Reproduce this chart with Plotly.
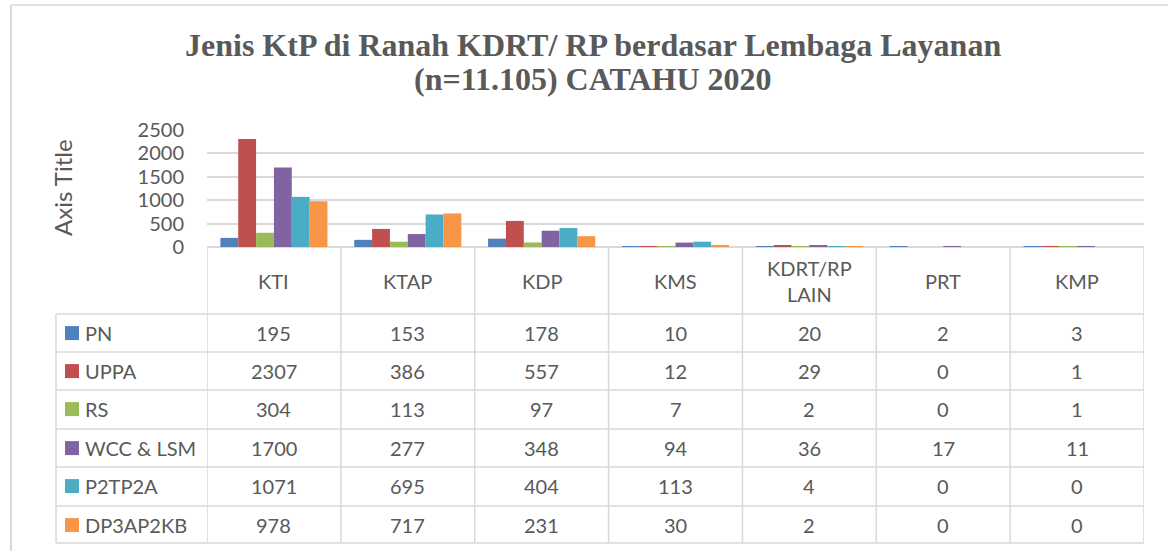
import plotly.graph_objects as go

# ---- data ----
categories = ["KTI", "KTAP", "KDP", "KMS", "KDRT/RP LAIN", "PRT", "KMP"]
category_labels = ["KTI", "KTAP", "KDP", "KMS", "KDRT/RP<br>LAIN", "PRT", "KMP"]
series_names = ["PN", "UPPA", "RS", "WCC & LSM", "P2TP2A", "DP3AP2KB"]
pn = [195, 153, 178, 10, 20, 2, 3]
uppa = [2307, 386, 557, 12, 29, 0, 1]
rs = [304, 113, 97, 7, 2, 0, 1]
wcc_lsm = [1700, 277, 348, 94, 36, 17, 11]
p2tp2a = [1071, 695, 404, 113, 4, 0, 0]
dp3ap2kb = [978, 717, 231, 30, 2, 0, 0]
series_values = [pn, uppa, rs, wcc_lsm, p2tp2a, dp3ap2kb]
y_ticks = [0, 500, 1000, 1500, 2000, 2500]

title_line1 = "Jenis KtP di Ranah KDRT/ RP berdasar Lembaga Layanan"
title_line2 = "(n=11.105) CATAHU 2020"
axis_title = "Axis Title"

# ---- style ----
colors = ["#4F81BD", "#C0504D", "#9BBB59", "#8064A2", "#4BACC6", "#F79646"]
W, H = 1168, 551
GRID = "#D9D9D9"
TXT = "#595959"
FONT = "Lato"


def px(x):
    return x / W


def py(y):
    return 1 - y / H


plot_left, plot_right = 207, 1144
plot_top, plot_bottom = 130, 247
table_left = 56
row_tops = [314, 352, 390, 429, 467, 506]
table_bottom = 543

fig = go.Figure()
for name, vals, c in zip(series_names, series_values, colors):
    fig.add_trace(go.Bar(x=categories, y=vals, name=name, marker_color=c,
                         marker_line_width=0, showlegend=False, hoverinfo="skip"))

shapes = []
annotations = []
line_style = dict(color=GRID, width=1.5)

# outer frame
shapes.append(dict(type="line", xref="paper", yref="paper", x0=px(11), x1=px(11),
                   y0=py(5), y1=py(551), line=dict(color=GRID, width=2)))
shapes.append(dict(type="line", xref="paper", yref="paper", x0=px(11), x1=1,
                   y0=py(5), y1=py(5), line=dict(color=GRID, width=1.5)))

# table vertical lines (category boundaries)
for k in range(len(categories) + 1):
    shapes.append(dict(type="line", xref="x", yref="paper", x0=k - 0.5, x1=k - 0.5,
                       y0=py(plot_bottom), y1=py(table_bottom), line=line_style))
# left column border
shapes.append(dict(type="line", xref="paper", yref="paper", x0=px(table_left), x1=px(table_left),
                   y0=py(row_tops[0]), y1=py(table_bottom), line=line_style))
# horizontal lines
for yy in row_tops + [table_bottom]:
    shapes.append(dict(type="line", xref="paper", yref="paper", x0=px(table_left), x1=px(plot_right),
                       y0=py(yy), y1=py(yy), line=line_style))

# header labels
header_center = (plot_bottom + row_tops[0]) / 2
for cat, lab in zip(categories, category_labels):
    annotations.append(dict(x=cat, xref="x", y=py(header_center), yref="paper",
                            text=lab, showarrow=False, xanchor="center", yanchor="middle",
                            font=dict(family=FONT, size=20, color=TXT)))

# rows
row_h = (table_bottom - row_tops[0]) / len(series_names)
for i, (name, vals, c) in enumerate(zip(series_names, series_values, colors)):
    yc = row_tops[i] + row_h / 2
    shapes.append(dict(type="rect", xref="paper", yref="paper", x0=px(65), x1=px(79),
                       y0=py(yc + 7), y1=py(yc - 7), fillcolor=c, line=dict(width=0)))
    annotations.append(dict(x=px(83), xref="paper", y=py(yc), yref="paper", text=name,
                            showarrow=False, xanchor="left", yanchor="middle",
                            font=dict(family=FONT, size=20, color=TXT)))
    for cat, v in zip(categories, vals):
        annotations.append(dict(x=cat, xref="x", y=py(yc), yref="paper", text=str(v),
                                showarrow=False, xanchor="center", yanchor="middle",
                                font=dict(family=FONT, size=20, color=TXT)))

# title
annotations.append(dict(x=px(593), y=py(45), xref="paper", yref="paper", text="<b>" + title_line1 + "</b>",
                        showarrow=False, xanchor="center", yanchor="middle",
                        font=dict(family="Liberation Serif", size=32, color=TXT)))
annotations.append(dict(x=px(593), y=py(79), xref="paper", yref="paper", text="<b>" + title_line2 + "</b>",
                        showarrow=False, xanchor="center", yanchor="middle",
                        font=dict(family="Liberation Serif", size=32, color=TXT)))
# axis title
annotations.append(dict(x=px(62), y=py(188), xref="paper", yref="paper", text=axis_title,
                        showarrow=False, textangle=-90, xanchor="center", yanchor="middle",
                        font=dict(family=FONT, size=24, color=TXT)))

fig.update_layout(
    width=W, height=H, autosize=False,
    margin=dict(l=0, r=0, t=0, b=0, pad=0, autoexpand=False),
    paper_bgcolor="white", plot_bgcolor="white",
    barmode="group", bargap=0.2, bargroupgap=0,
    xaxis=dict(domain=[px(plot_left), px(plot_right)], range=[-0.5, len(categories) - 0.5],
               automargin=False, fixedrange=True,
               showticklabels=False, showgrid=False, zeroline=False, showline=False, ticks=""),
    yaxis=dict(domain=[py(plot_bottom), py(plot_top)], range=[0, 2500], tickvals=y_ticks,
               automargin=False, fixedrange=True,
               showgrid=True, gridcolor=GRID, gridwidth=1.5, zeroline=True, zerolinecolor=GRID,
               zerolinewidth=1.5, showline=False, ticks="", ticklabelstandoff=22,
               tickfont=dict(family=FONT, size=20, color=TXT)),
    shapes=shapes, annotations=annotations,
)

fig.write_html("out.html", config={"displayModeBar": False, "responsive": False},
               post_script="document.body.style.margin='0';document.body.style.overflow='hidden';")
